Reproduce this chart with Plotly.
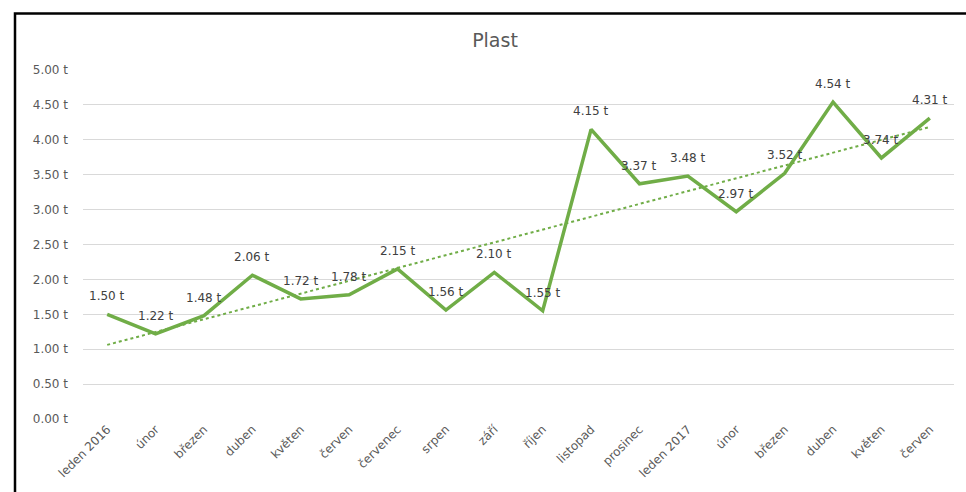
import numpy as np
import plotly.graph_objects as go

months = ["leden 2016", "únor", "březen", "duben", "květen", "červen", "červenec",
          "srpen", "září", "říjen", "listopad", "prosinec", "leden 2017", "únor",
          "březen", "duben", "květen", "červen"]
plast = [1.50, 1.22, 1.48, 2.06, 1.72, 1.78, 2.15, 1.56, 2.10, 1.55, 4.15, 3.37,
         3.48, 2.97, 3.52, 4.54, 3.74, 4.31]
y_ticks = [0, 0.5, 1.0, 1.5, 2.0, 2.5, 3.0, 3.5, 4.0, 4.5, 5.0]

idx = list(range(len(months)))
slope, intercept = np.polyfit(idx, plast, 1)
trend = [intercept + slope * i for i in idx]

GREEN = "#70AD47"
FONT = "DejaVu Sans, sans-serif"

fig = go.Figure()
fig.add_trace(go.Scatter(
    x=idx, y=trend, mode="lines",
    line=dict(color=GREEN, width=2, dash="dot"),
    hoverinfo="skip", showlegend=False))
fig.add_trace(go.Scatter(
    x=idx, y=plast, mode="lines",
    line=dict(color=GREEN, width=3.5),
    showlegend=False))

for i, v in zip(idx, plast):
    fig.add_annotation(x=i, y=v, text=f"{v:.2f} t", showarrow=False,
                       xanchor="center", yanchor="middle", yshift=18,
                       font=dict(family=FONT, size=12, color="#404040"))

fig.update_layout(
    width=966, height=492,
    margin=dict(l=83, r=12, t=70, b=70),
    paper_bgcolor="white", plot_bgcolor="white",
    title=dict(text="Plast", x=495/966, xanchor="center", xref="container",
               y=1 - 40/492, yanchor="middle",
               font=dict(family=FONT, size=19, color="#595959")),
    font=dict(family=FONT, color="#595959"),
    showlegend=False,
)
fig.update_xaxes(
    range=[-0.5, len(months) - 0.5],
    tickmode="array", tickvals=idx, ticktext=months,
    tickangle=-45, tickfont=dict(family=FONT, size=12, color="#595959"),
    showgrid=False, zeroline=False, showline=False, ticks="",
)
fig.update_yaxes(
    range=[0, 5], tickmode="array", tickvals=y_ticks,
    ticktext=[f"{v:.2f} t" for v in y_ticks],
    tickfont=dict(family=FONT, size=12, color="#595959"),
    showgrid=True, gridcolor="#D9D9D9", gridwidth=1,
    zeroline=False, showline=False, ticks="",
    ticklabelstandoff=14,
)

# outer chart frame (partially visible)
fig.add_shape(type="rect", xref="paper", yref="paper",
              x0=(15 - 83) / (966 - 83 - 12), x1=1.2,
              y0=-0.3, y1=1 + (70 - 13) / (492 - 70 - 70),
              line=dict(color="black", width=2.5), fillcolor="rgba(0,0,0,0)",
              layer="above")

fig.write_html("out.html", config={"displayModeBar": False},
               post_script="document.body.style.margin='0';document.body.style.overflow='hidden';")
